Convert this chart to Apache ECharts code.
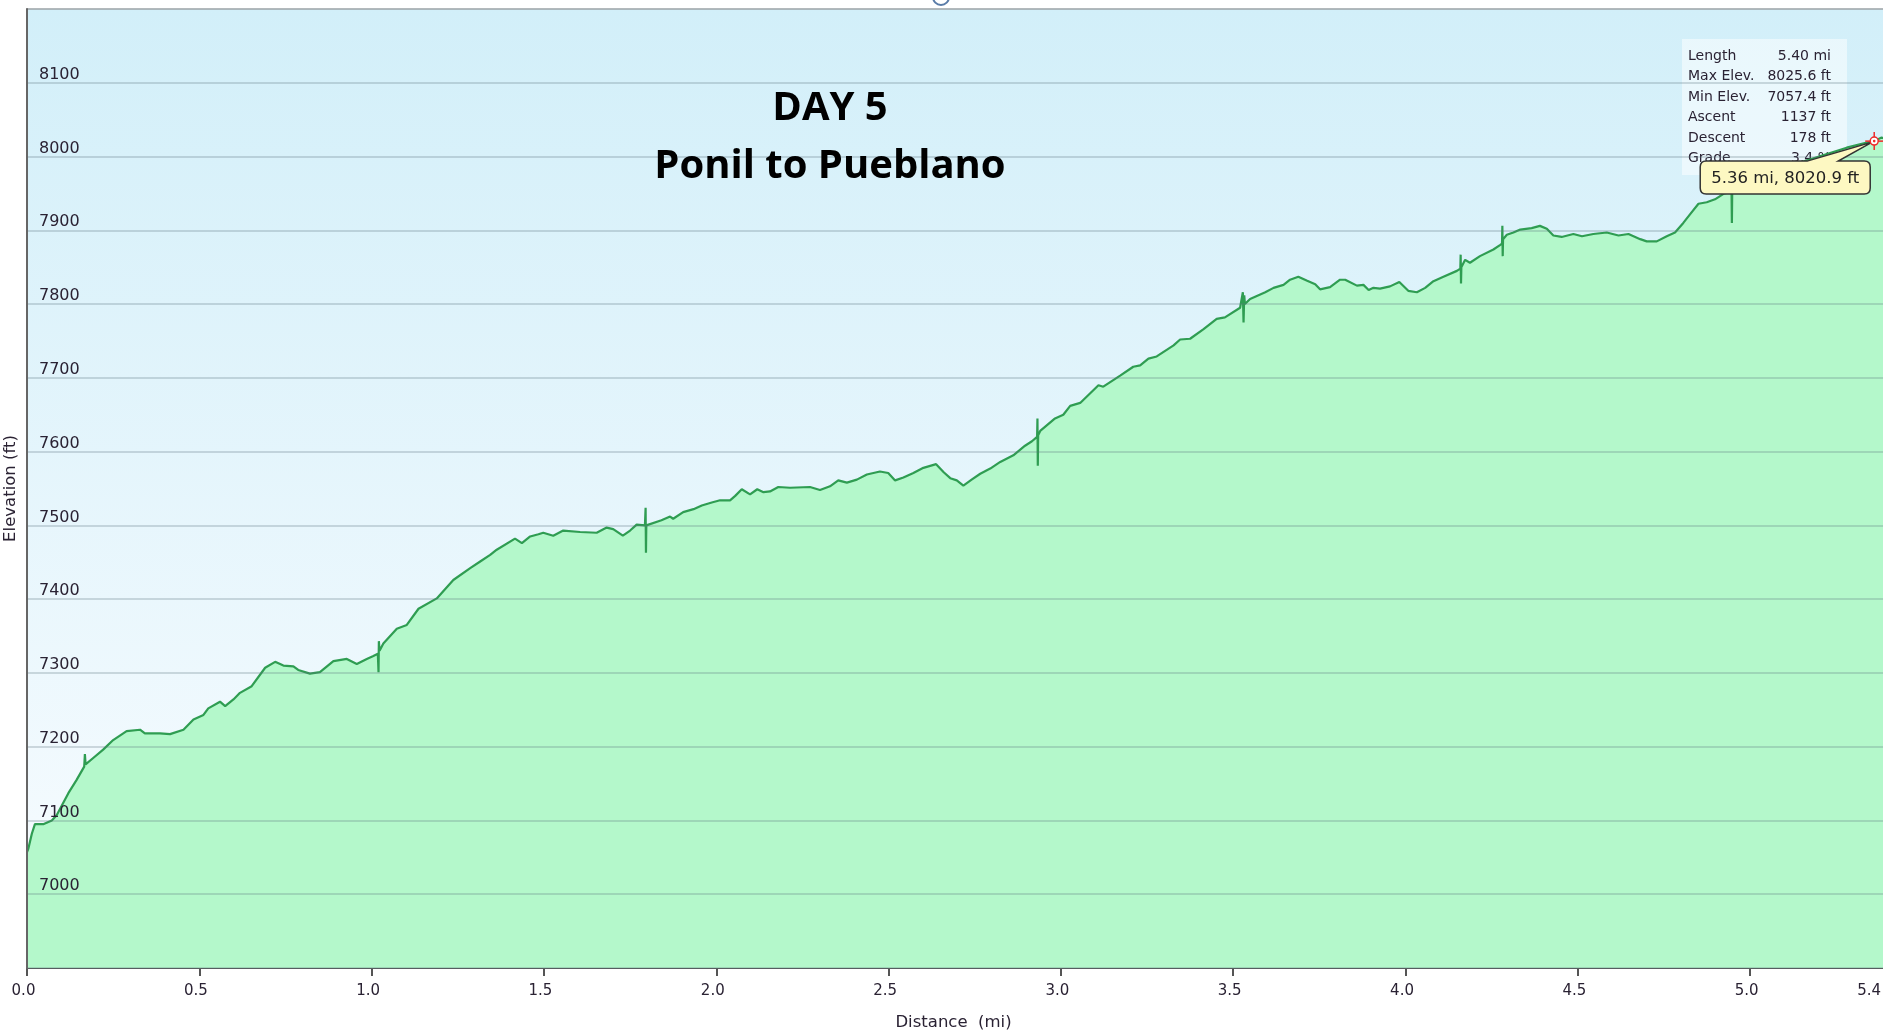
<!DOCTYPE html>
<html>
<head>
<meta charset="utf-8">
<title>Day 5 - Ponil to Pueblano</title>
<script src="https://cdn.jsdelivr.net/npm/echarts@6/dist/echarts.min.js"></script>
<style>
  html, body { margin: 0; padding: 0; background: #fff; overflow: hidden; }
  /* the plot runs a few px past the right edge of the window, like the screenshot */
  #chart { width: 1893px; height: 1031px; }
</style>
</head>
<body>
<div id="chart"></div>
<script>
  // distance (mi) along the trail
  const distances = [
    0.000, 0.004, 0.014, 0.023, 0.047, 0.072, 0.086, 0.120, 0.144, 0.166, 0.168, 0.170,
    0.193, 0.221, 0.250, 0.289, 0.328, 0.342, 0.386, 0.415, 0.454, 0.483, 0.512, 0.526,
    0.560, 0.575, 0.599, 0.618, 0.652, 0.691, 0.720, 0.744, 0.773, 0.787, 0.821, 0.850,
    0.889, 0.928, 0.957, 0.986, 1.005, 1.018, 1.020, 1.021, 1.023, 1.034, 1.073, 1.102,
    1.136, 1.189, 1.237, 1.286, 1.315, 1.344, 1.363, 1.416, 1.436, 1.460, 1.484, 1.498,
    1.527, 1.556, 1.605, 1.653, 1.682, 1.701, 1.729, 1.750, 1.769, 1.793, 1.795, 1.796,
    1.797, 1.841, 1.866, 1.875, 1.904, 1.934, 1.958, 1.987, 2.011, 2.040, 2.055, 2.074,
    2.098, 2.119, 2.137, 2.156, 2.180, 2.214, 2.272, 2.301, 2.330, 2.354, 2.379, 2.408,
    2.437, 2.475, 2.499, 2.519, 2.543, 2.572, 2.601, 2.638, 2.660, 2.679, 2.698, 2.717,
    2.741, 2.766, 2.795, 2.824, 2.862, 2.896, 2.916, 2.931, 2.932, 2.933, 2.934, 2.940,
    2.983, 3.007, 3.027, 3.056, 3.109, 3.123, 3.172, 3.210, 3.230, 3.254, 3.278, 3.327,
    3.346, 3.375, 3.414, 3.452, 3.476, 3.520, 3.528, 3.530, 3.532, 3.534, 3.549, 3.593,
    3.617, 3.646, 3.665, 3.689, 3.713, 3.738, 3.752, 3.781, 3.810, 3.825, 3.859, 3.878,
    3.893, 3.907, 3.926, 3.955, 3.982, 4.008, 4.033, 4.057, 4.081, 4.110, 4.149, 4.159,
    4.160, 4.161, 4.162, 4.173, 4.187, 4.216, 4.255, 4.274, 4.280, 4.281, 4.282, 4.283,
    4.294, 4.313, 4.333, 4.366, 4.390, 4.410, 4.429, 4.453, 4.487, 4.512, 4.545, 4.584,
    4.618, 4.647, 4.681, 4.700, 4.729, 4.758, 4.782, 4.806, 4.826, 4.850, 4.874, 4.898,
    4.925, 4.946, 4.947, 4.948, 4.990, 5.050, 5.120, 5.200, 5.280, 5.330, 5.360, 5.380,
    5.400
  ];

  // elevation (ft) at each distance
  const elevations = [
    7057, 7062, 7082, 7095, 7095, 7100, 7107, 7137, 7155, 7173, 7190, 7176,
    7185, 7196, 7209, 7221, 7223, 7218, 7218, 7217, 7223, 7237, 7243, 7252,
    7261, 7255, 7264, 7273, 7282, 7307, 7315, 7310, 7309, 7304, 7299, 7301,
    7316, 7319, 7312, 7319, 7323, 7326, 7301, 7343, 7330, 7340, 7360, 7365,
    7387, 7401, 7426, 7442, 7451, 7460, 7467, 7482, 7476, 7485, 7488, 7490,
    7486, 7493, 7491, 7490, 7497, 7495, 7486, 7493, 7501, 7500, 7524, 7463,
    7500, 7507, 7512, 7509, 7518, 7522, 7527, 7531, 7534, 7534, 7540, 7549,
    7542, 7549, 7545, 7546, 7552, 7551, 7552, 7548, 7553, 7561, 7558, 7562,
    7569, 7573, 7571, 7561, 7565, 7571, 7578, 7583, 7572, 7564, 7561, 7554,
    7562, 7570, 7577, 7586, 7595, 7608, 7614, 7620, 7645, 7581, 7622, 7628,
    7645, 7650, 7662, 7666, 7690, 7688, 7703, 7715, 7717, 7726, 7729, 7744,
    7752, 7753, 7766, 7780, 7782, 7795, 7816, 7775, 7812, 7800, 7807, 7816,
    7822, 7826, 7833, 7837, 7832, 7827, 7820, 7823, 7833, 7833, 7825, 7826,
    7819, 7822, 7821, 7824, 7830, 7818, 7816, 7822, 7831, 7837, 7845, 7848,
    7867, 7828, 7850, 7860, 7856, 7865, 7874, 7880, 7882, 7906, 7865, 7888,
    7894, 7897, 7901, 7903, 7906, 7902, 7893, 7891, 7895, 7892, 7895, 7897,
    7893, 7895, 7888, 7885, 7885, 7892, 7897, 7910, 7922, 7936, 7938, 7942,
    7950, 7952, 7910, 7955, 7962, 7975, 7988, 8000, 8012, 8018, 8020.9, 8025.6,
    8024
  ];

  // summary box
  const statLabels = ['Length', 'Max Elev.', 'Min Elev.', 'Ascent', 'Descent', 'Grade'];
  const statValues = ['5.40 mi', '8025.6 ft', '7057.4 ft', '1137 ft', '178 ft', '3.4 %'];

  // hovered point shown in the callout
  const cursorPoint = [5.36, 8020.9];
  const cursorText = '5.36 mi, 8020.9 ft';

  const titleLines = ['DAY 5', 'Ponil to Pueblano'];

  const textFont = 'DejaVu Sans';
  const textColor = '#2a2233';

  const chart = echarts.init(document.getElementById('chart'));

  const profile = distances.map((d, i) => [d, elevations[i]]);

  // stats box
  const statChildren = [{
    type: 'rect',
    shape: {x: 0, y: 0, width: 165, height: 136},
    style: {fill: 'rgba(255,255,255,0.5)'}
  }];
  statLabels.forEach((lab, i) => {
    statChildren.push({
      type: 'text', x: 6, y: 17 + i * 20.5,
      style: {text: lab, font: '14px "' + textFont + '"', fill: textColor, textVerticalAlign: 'middle'}
    });
    statChildren.push({
      type: 'text', x: 149, y: 17 + i * 20.5,
      style: {text: statValues[i], font: '14px "' + textFont + '"', fill: textColor, textAlign: 'right', textVerticalAlign: 'middle'}
    });
  });

  const option = {
    backgroundColor: '#ffffff',
    animation: false,
    grid: {
      left: 27, right: 5, top: 9, bottom: 63,
      outerBoundsMode: 'none',
      containLabel: false,
      show: true,
      borderColor: '#c2c2c2',
      borderWidth: 1.5,
      backgroundColor: new echarts.graphic.LinearGradient(0, 0, 0, 1, [
        {offset: 0, color: '#d2eff9'},
        {offset: 1, color: '#f9fcff'}
      ])
    },
    xAxis: {
      type: 'value',
      min: 0, max: 5.4, interval: 0.5,
      name: 'Distance  (mi)',
      nameLocation: 'middle',
      nameGap: 46,
      nameTextStyle: {fontFamily: textFont, fontSize: 16.5, color: textColor, padding: [0, 8, 0, 0]},
      axisLine: {show: true, lineStyle: {color: '#555', width: 2}},
      axisTick: {show: true, length: 8, lineStyle: {color: '#555', width: 2}},
      axisLabel: {
        fontFamily: textFont, fontSize: 15, color: textColor, margin: 16,
        padding: [0, 7, 0, 0],
        alignMaxLabel: 'right',
        formatter: v => v.toFixed(1)
      },
      splitLine: {show: false}
    },
    yAxis: {
      type: 'value',
      min: 6900, max: 8200, interval: 100,
      z: 3,
      name: 'Elevation (ft)',
      nameLocation: 'middle',
      nameGap: -4,
      nameRotate: 90,
      nameTextStyle: {fontFamily: textFont, fontSize: 16.5, color: textColor},
      axisLine: {show: true, lineStyle: {color: '#666', width: 2}},
      axisTick: {show: false},
      axisLabel: {
        inside: true, margin: 12,
        align: 'left', verticalAlign: 'bottom', padding: [0, 0, 0, 0],
        fontFamily: textFont, fontSize: 16, color: textColor,
        showMinLabel: false, showMaxLabel: false,
        formatter: v => String(v)
      },
      splitLine: {show: true, lineStyle: {color: 'rgba(95,115,125,0.35)', width: 1.5}}
    },
    graphic: [
      {
        type: 'group', x: 1682, y: 39, z: 5,
        children: statChildren
      },
      {
        type: 'text', x: 830, y: 109, z: 5,
        style: {text: titleLines[0], font: 'bold 40px "Open Sans"', fill: '#000', textAlign: 'center', textVerticalAlign: 'middle'}
      },
      {
        type: 'text', x: 830, y: 167, z: 5,
        style: {text: titleLines[1], font: 'bold 40px "Open Sans"', fill: '#000', textAlign: 'center', textVerticalAlign: 'middle'}
      },
      {
        type: 'circle', z: 5,
        shape: {cx: 941, cy: -3, r: 8},
        style: {fill: '#fff', stroke: '#5a7ca8', lineWidth: 2}
      }
    ],
    series: [
      {
        type: 'line',
        data: profile,
        showSymbol: false,
        symbol: 'none',
        z: 2,
        lineStyle: {color: '#2f9d52', width: 2.2},
        areaStyle: {color: '#b4f8cb', opacity: 1}
      },
      {
        type: 'custom',
        z: 10,
        clip: false,
        data: [cursorPoint],
        renderItem: function (params, api) {
          const p = api.coord([api.value(0), api.value(1)]);
          const px = p[0], py = p[1];
          const x0 = px - 174, x1 = px - 4, y0 = py + 20, y1 = py + 53, r = 6;
          const tl = px - 67, tr = px - 36;
          const path = [
            'M', x0 + r, y0, 'L', tl, y0, 'L', px - 2, py + 1, 'L', tr, y0, 'L', x1 - r, y0,
            'Q', x1, y0, x1, y0 + r, 'L', x1, y1 - r, 'Q', x1, y1, x1 - r, y1,
            'L', x0 + r, y1, 'Q', x0, y1, x0, y1 - r, 'L', x0, y0 + r, 'Q', x0, y0, x0 + r, y0, 'Z'
          ].join(' ');
          return {
            type: 'group',
            children: [
              {
                type: 'path',
                shape: {pathData: path},
                style: {fill: '#fdf8c2', stroke: '#333', lineWidth: 1.5}
              },
              {
                type: 'text',
                x: (x0 + x1) / 2, y: (y0 + y1) / 2 + 1,
                style: {text: cursorText, font: '16.5px "' + textFont + '"', fill: '#222', textAlign: 'center', textVerticalAlign: 'middle'}
              },
              {type: 'line', shape: {x1: px - 9, y1: py, x2: px + 9, y2: py}, style: {stroke: '#ee2a2a', lineWidth: 1.5}},
              {type: 'line', shape: {x1: px, y1: py - 9, x2: px, y2: py + 9}, style: {stroke: '#ee2a2a', lineWidth: 1.5}},
              {type: 'circle', shape: {cx: px, cy: py, r: 4}, style: {fill: '#fff', stroke: '#ee2a2a', lineWidth: 1.5}},
              {type: 'circle', shape: {cx: px, cy: py, r: 1.3}, style: {fill: '#ee2a2a'}}
            ]
          };
        }
      }
    ]
  };

  chart.setOption(option);
</script>
</body>
</html>
